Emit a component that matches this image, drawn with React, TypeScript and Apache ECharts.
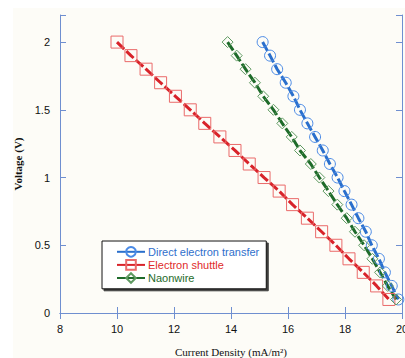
import React, { useEffect, useRef } from "react";
import * as echarts from "echarts";

const voltage = [2.0, 1.9, 1.8, 1.7, 1.6, 1.5, 1.4, 1.3, 1.2, 1.1, 1.0, 0.9, 0.8, 0.7, 0.6, 0.5, 0.4, 0.3, 0.2, 0.1];
const directCurrent = [15.11, 15.37, 15.62, 15.92, 16.19, 16.42, 16.68, 16.95, 17.22, 17.47, 17.74, 17.98, 18.23, 18.47, 18.73, 18.94, 19.19, 19.4, 19.64, 19.87];
const shuttleCurrent = [10.0, 10.49, 11.02, 11.53, 12.05, 12.57, 13.08, 13.61, 14.14, 14.64, 15.16, 15.69, 16.16, 16.68, 17.18, 17.68, 18.14, 18.64, 19.11, 19.54];
const nanowireCurrent = [13.88, 14.2, 14.51, 14.84, 15.13, 15.49, 15.8, 16.13, 16.42, 16.8, 17.1, 17.42, 17.73, 18.06, 18.35, 18.67, 18.96, 19.23, 19.5, 19.79];
const seriesNames = ["Direct electron transfer", "Electron shuttle", "Naonwire"];

const AXIS = "#6f8fd0";

export default function App() {
  const ref = useRef<HTMLDivElement>(null);
  useEffect(() => {
    const chart = echarts.init(ref.current!, undefined, { renderer: "svg" });
    const pair = (xs: number[]) => xs.map((x, i) => [x, voltage[i]]);
    const mk = (name: string, xs: number[], line: string, marker: string, symbol: string, size: number) => ({
      name,
      type: "line",
      data: pair(xs),
      symbol,
      symbolSize: size,
      showAllSymbol: true,
      lineStyle: { color: line, width: 3, type: [10, 3] },
      itemStyle: { color: "rgba(0,0,0,0)", borderColor: marker, borderWidth: 1 },
      xAxisIndex: 0,
      yAxisIndex: 0,
    });
    chart.setOption({
      animation: false,
      backgroundColor: "#ffffff",
      graphic: [
        { type: "rect", left: 13, top: 8, z: -10, shape: { width: 392, height: 350 }, style: { fill: "#fdfcf7" } },
      ],
      grid: { left: 60, right: 3, top: 15, bottom: 45, outerBoundsMode: "none", containLabel: false },
      legend: {
        orient: "vertical",
        left: 102,
        top: 241,
        padding: [5, 7, 5, 14],
        itemGap: 1.5,
        itemWidth: 28,
        itemHeight: 12,
        backgroundColor: "#ffffff",
        borderColor: "#111",
        borderWidth: 1,
        shadowColor: "rgba(0,0,0,0.75)",
        shadowOffsetX: 2,
        shadowOffsetY: 2,
        shadowBlur: 0,
        lineStyle: { type: "solid", width: 2 },
        textStyle: { fontFamily: "Liberation Sans, Arial, sans-serif", fontSize: 11, padding: [0, 0, 0, -2] },
        data: [
          { name: seriesNames[0], textStyle: { color: "#2f6fcc" } },
          { name: seriesNames[1], textStyle: { color: "#e02a2a" } },
          { name: seriesNames[2], textStyle: { color: "#1e6b2a" } },
        ],
      },
      xAxis: [
        {
          type: "value",
          min: 8,
          max: 20,
          interval: 2,
          position: "bottom",
          name: "Current Density (mA/m²)",
          nameLocation: "middle",
          nameGap: 33,
          nameTextStyle: { fontFamily: "Liberation Serif, Times New Roman, serif", fontSize: 11, color: "#111" },
          axisLine: { show: true, lineStyle: { color: AXIS, width: 1 } },
          axisTick: { show: true, inside: true, length: 6, lineStyle: { color: AXIS } },
          axisLabel: { color: "#111", fontSize: 11, fontFamily: "Liberation Sans, Arial, sans-serif", margin: 10 },
          splitLine: { show: false },
        },
        {
          type: "value",
          min: 8,
          max: 20,
          interval: 2,
          position: "top",
          axisLine: { show: true, lineStyle: { color: AXIS, width: 1 } },
          axisTick: { show: true, inside: true, length: 6, lineStyle: { color: AXIS } },
          axisLabel: { show: false },
          splitLine: { show: false },
        },
      ],
      yAxis: [
        {
          type: "value",
          min: 0,
          max: 2.2,
          interval: 0.5,
          position: "left",
          name: "Voltage (V)",
          nameLocation: "middle",
          nameRotate: 90,
          nameGap: 36,
          nameTextStyle: { fontFamily: "Liberation Serif, Times New Roman, serif", fontSize: 11, fontWeight: "bold", color: "#111" },
          axisLine: { show: true, lineStyle: { color: AXIS, width: 1 } },
          axisTick: { show: true, inside: true, length: 6, lineStyle: { color: AXIS } },
          axisLabel: {
            color: "#111",
            fontSize: 11,
            fontFamily: "Liberation Sans, Arial, sans-serif",
            margin: 10,
            formatter: (v: number) => (v > 2.1 ? "" : String(v)),
          },
          splitLine: { show: false },
        },
        {
          type: "value",
          min: 0,
          max: 2.2,
          interval: 0.5,
          position: "right",
          axisLine: { show: true, lineStyle: { color: AXIS, width: 1 } },
          axisTick: { show: true, inside: true, length: 6, lineStyle: { color: AXIS } },
          axisLabel: { show: false },
          splitLine: { show: false },
        },
      ],
      series: [
        mk(seriesNames[0], directCurrent, "#2a6fcc", "#4a8ae6", "circle", 11),
        mk(seriesNames[1], shuttleCurrent, "#d8232a", "#ea6a6a", "rect", 12),
        mk(seriesNames[2], nanowireCurrent, "#1e6b2a", "#5f9a62", "diamond", 11),
      ],
    });
    return () => chart.dispose();
  }, []);
  return (
    <div
      ref={ref}
      style={{ position: "absolute", left: 0, top: 0, width: 405, height: 358 }}
    />
  );
}
